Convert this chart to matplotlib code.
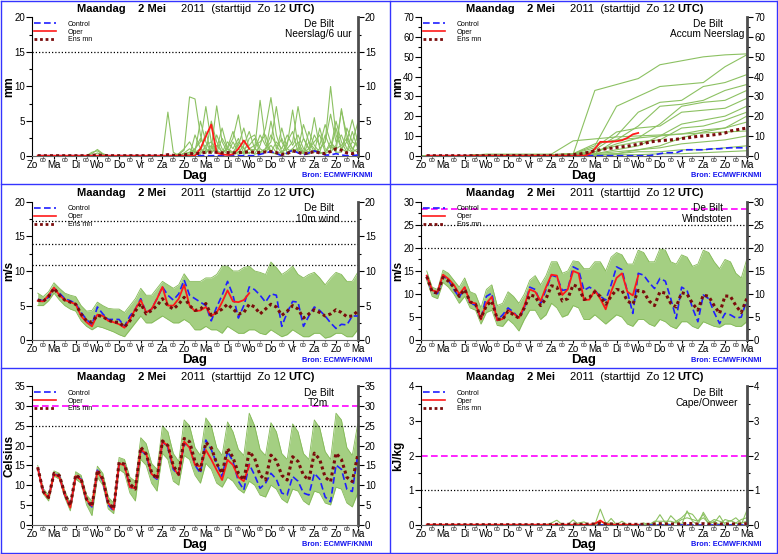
import numpy as np
import matplotlib
matplotlib.use('Agg')
import matplotlib.pyplot as plt
from matplotlib.lines import Line2D
from matplotlib.ticker import FuncFormatter

plt.rcParams['font.family'] = ['Liberation Sans', 'DejaVu Sans']

# ---------------- data ----------------
days = ['Zo', 'Ma', 'Di', 'Wo', 'Do', 'Vr', 'Za', 'Zo', 'Ma', 'Di', 'Wo', 'Do', 'Vr', 'Za', 'Zo', 'Ma']
steps = np.arange(1, 61) * 0.25          # forecast steps (days), 6-hourly
steps_oper = steps[:40]
steps_day = np.arange(16)

# --- Neerslag / 6 uur (mm)
prec_ctrl = [0, 0, 0, 0,  0, 0, 0, 0,  0, 0, 0, 0,  0, 0, 0, 0,  0, 0, 0, 0,
             0, 0, 0, 0,  0, 0, 0, 0,  0, 0, 0, 0,  0, 0, 0, 0,  0, 0, 0, 0,
             0, 0.2, 0.4, 0.6,  0.3, 0, 0.4, 0.8,  0.4, 0.1, 0.4, 0.7,  0.4, 0.1, 0.1, 0.3,  0.1, 0, 0, 0.1]
prec_oper = [0, 0, 0, 0,  0, 0, 0, 0,  0, 0, 0, 0,  0, 0, 0, 0,  0, 0, 0, 0,
             0, 0, 0, 0,  0, 0, 0, 0,  0, 0, 1.0, 2.8,  4.5, 0.4, 0.2, 0.1,  0.2, 1.0, 2.2, 1.0]
prec_mean = [0, 0, 0, 0,  0, 0, 0, 0,  0, 0, 0.05, 0.1,  0.05, 0, 0, 0,  0, 0, 0, 0,
             0, 0, 0, 0.02,  0.15, 0.05, 0.05, 0.1,  0.3, 0.3, 0.35, 0.5,  0.5, 0.5, 0.4, 0.45,
             0.4, 0.45, 0.5, 0.55,  0.5, 0.45, 0.55, 0.6,  0.45, 0.2, 0.3, 0.7,  0.5, 0.3, 0.4, 0.6,
             0.4, 0.3, 0.6, 1.0,  0.8, 0.4, 0.3, 0.5]
prec_m1 = [0, 0, 0, 0,  0, 0, 0, 0,  0, 0, 0.3, 0.9,  0.3, 0, 0, 0,  0, 0, 0, 0,  0, 0, 0, 0,
           6.3, 0.5, 0, 0.4,  1.0, 0.5, 0.2, 1.5,  2.0, 0.8, 0.3, 1.2,  3.5, 1.0, 0.2, 0.5,
           0.3, 1.5, 4.0, 8.4,  3.0, 0.5, 0.2, 1.0,  0.5, 0.3, 2.0, 1.0,  0.3, 0.5, 1.5, 0.5,
           6.8, 2.0, 0.5, 1.0]
prec_m2 = [0, 0, 0, 0,  0, 0, 0, 0,  0, 0, 0.5, 0.7,  0.2, 0, 0, 0,  0, 0, 0, 0,  0, 0, 0, 0,
           0, 0, 0.2, 0.8,  8.5, 8.2, 3.0, 0.5,  1.0, 7.2, 2.0, 0.5,  0.5, 0.2, 0.5, 1.0,
           0.8, 3.0, 1.5, 0.5,  0.2, 0.5, 1.0, 2.0,  7.1, 2.5, 1.0, 0.5,  1.0, 2.0, 10.0, 3.0,
           1.0, 0.5, 2.0, 4.7]
prec_m3 = [0, 0, 0, 0,  0, 0, 0, 0,  0, 0, 0, 0.4,  0, 0, 0, 0,  0, 0, 0, 0,  0, 0, 0, 0,
           0, 0, 0, 0.3,  0.5, 1.0, 2.0, 7.1,  2.0, 0.5, 0.3, 1.0,  2.5, 5.9, 1.0, 0.3,
           1.0, 8.0, 2.0, 0.5,  0.3, 0.5, 1.5, 6.6,  1.5, 0.3, 0.2, 0.8,  0.5, 0.3, 0.8, 4.0,
           1.0, 2.0, 5.2, 2.0]
prec_m4 = [0, 0, 0, 0,  0, 0, 0, 0,  0, 0, 0, 0,  0, 0, 0, 0,  0, 0, 0, 0,  0, 0, 0, 0,
           0, 0, 0, 0,  0, 3.0, 1.0, 0.5,  5.0, 2.0, 0.5, 1.0,  0.5, 1.5, 4.0, 1.0,
           0.2, 0.5, 1.0, 2.0,  7.1, 2.0, 0.5, 1.0,  2.0, 0.5, 1.0, 5.5,  1.0, 2.0, 6.0, 2.0,
           3.0, 1.0, 0.5, 3.0]
prec_m5 = [0, 0, 0, 0,  0, 0, 0, 0,  0, 0, 0, 0,  0, 0, 0, 0,  0, 0, 0, 0,  0, 0, 0, 0,
           0, 0, 0, 0,  0, 0.5, 5.0, 2.0,  0.5, 1.0, 4.0, 1.0,  0.3, 0.5, 1.5, 3.5,
           1.0, 0.5, 0.5, 5.0,  1.0, 2.5, 0.5, 0.8,  1.0, 4.5, 2.0, 0.5,  4.0, 1.0, 0.5, 1.5,
           6.5, 3.0, 1.0, 0.5]
prec_m6 = [0, 0, 0, 0,  0, 0, 0, 0,  0, 0, 0, 0,  0, 0, 0, 0,  0, 0, 0, 0,  0, 0, 0, 0,
           0, 0, 0, 0,  0.2, 1.0, 2.5, 1.0,  0.5, 3.0, 1.0, 0.2,  2.0, 0.5, 0.5, 2.5,
           3.0, 1.0, 0.5, 1.5,  0.5, 4.0, 1.0, 0.5,  1.0, 0.5, 3.5, 1.5,  0.5, 3.0, 1.0, 5.0,
           2.0, 0.5, 3.5, 1.0]
prec_m7 = [0, 0, 0, 0,  0, 0, 0, 0,  0, 0, 0, 0,  0, 0, 0, 0,  0, 0, 0, 0,  0, 0, 0, 0,
           0, 0, 0.3, 1.0,  2.0, 0.5, 1.0, 0.3,  1.5, 0.5, 2.5, 1.0,  0.3, 2.0, 1.0, 1.5,
           2.5, 0.5, 1.0, 3.0,  1.5, 0.3, 2.0, 3.5,  0.5, 2.5, 1.0, 2.0,  3.0, 0.5, 2.0, 1.0,
           1.5, 2.5, 1.0, 2.0]
prec_m8 = [0, 0, 0, 0,  0, 0, 0, 0,  0, 0, 0, 0,  0, 0, 0, 0,  0, 0, 0, 0,  0, 0, 0, 0,
           0, 0, 0, 0,  0.5, 0.2, 0.5, 3.5,  0.3, 1.5, 0.5, 2.0,  1.0, 2.5, 0.3, 1.0,
           1.5, 2.0, 3.0, 0.5,  2.0, 1.0, 3.0, 1.5,  3.0, 1.0, 0.5, 3.0,  1.5, 4.5, 2.0, 0.5,
           0.5, 4.0, 2.0, 1.5]
prec_members = [prec_m1, prec_m2, prec_m3, prec_m4, prec_m5, prec_m6, prec_m7, prec_m8]

# --- Accum Neerslag (mm)
acc_ctrl = [0, 0, 0, 0,  0, 0, 0, 0,  0, 0, 0, 0,  0, 0, 0, 0,  0, 0, 0, 0,
            0, 0, 0, 0,  0, 0, 0, 0,  0, 0, 0, 0,  0, 0, 0, 0,  0, 0, 0, 0,
            0, 0, 0.5, 1.0,  1.5, 1.5, 1.5, 2.5,  3.0, 3.0, 3.0, 3.0,  3.3, 3.5, 3.5, 3.8,  4.0, 4.0, 4.0, 4.0]
acc_oper = [0, 0, 0, 0,  0, 0, 0, 0,  0, 0, 0, 0,  0, 0, 0, 0,  0, 0, 0, 0,
            0, 0, 0, 0,  0, 0, 0, 0,  0, 0, 0.8, 3.5,  7.0, 7.0, 7.1, 7.3,  7.8, 9.0, 10.8, 11.5]
acc_mean = [0, 0, 0, 0,  0, 0, 0, 0,  0, 0, 0, 0.1,  0.1, 0.1, 0.1, 0.1,  0.1, 0.1, 0.1, 0.1,
            0.1, 0.1, 0.1, 0.15,  0.2, 0.3, 0.3, 0.5,  0.8, 1.2, 1.8, 2.5,  3.0, 3.5, 3.8, 4.2,
            4.5, 4.8, 5.3, 5.8,  6.2, 6.8, 7.3, 7.6,  7.8, 8.0, 8.3, 8.7,  9.0, 9.4, 9.8, 10.0,
            10.3, 10.6, 11.0, 11.5,  12.5, 13.0, 13.5, 14.0]
acc_m1 = [0, 0, 0, 0.5, 0.5, 0.5, 0.5, 0.8, 33, 36, 39, 46, 48, 50, 51, 51.5]
acc_m2 = [0, 0, 0, 0.5, 0.5, 0.5, 0.5, 1, 5, 25, 30, 35, 36, 37, 45, 51]
acc_m3 = [0, 0, 0, 0.3, 0.3, 0.3, 0.3, 0.5, 3, 10, 22, 27, 28, 35, 37, 41]
acc_m4 = [0, 0, 0, 0.3, 0.3, 0.3, 0.3, 0.5, 1, 8, 15, 25, 26, 28, 33, 36]
acc_m5 = [0, 0, 0, 0, 0, 0, 0.2, 0.5, 2, 6, 9, 16, 25, 27, 28, 33]
acc_m6 = [0, 0, 0, 0.5, 0.5, 0.5, 0.5, 1, 4, 12, 14, 15, 22, 23, 24, 29]
acc_m7 = [0, 0, 0, 0, 0, 0, 0, 0.5, 1, 3, 5, 10, 16, 18, 20, 25]
acc_m8 = [0, 0, 0, 0.3, 0.3, 0.3, 0.3, 0.5, 2, 5, 7, 8, 14, 15, 18, 22]
acc_m9 = [0, 0, 0, 0, 0, 0, 0, 0.3, 0.5, 1, 3, 5, 9, 12, 14, 20]
acc_m10 = [0, 0, 0, 0.5, 0.5, 0.5, 0.5, 1, 6, 8, 9, 10, 11, 13, 14, 17]
acc_m11 = [0, 0, 0, 0.8, 0.8, 0.8, 0.8, 7.5, 8.5, 9.5, 10, 10.5, 11, 11.5, 12, 12.5]
acc_m12 = [0, 0, 0, 0, 0, 0, 0, 0.5, 1, 2, 3, 4, 6, 7, 8, 10]
acc_m13 = [0, 0, 0, 0, 0, 0, 0, 0.3, 0.5, 1, 2, 2, 3, 3, 4, 5]
acc_m14 = [0, 0, 0, 0, 0, 0, 0, 0, 0.2, 0.5, 0.5, 1, 1, 1.5, 2, 2.5]
acc_members = [acc_m1, acc_m2, acc_m3, acc_m4, acc_m5, acc_m6, acc_m7,
               acc_m8, acc_m9, acc_m10, acc_m11, acc_m12, acc_m13, acc_m14]

# --- 10m wind (m/s)
wind_ctrl = [5.9, 5.7, 6.2, 7.5,  6.8, 6.0, 5.7, 5.3,  4.0, 3.0, 2.2, 4.8,  3.8, 3.0, 3.0, 3.0,
             2.0, 3.5, 4.5, 6.0,  4.0, 4.5, 6.0, 7.7,  6.5, 5.8, 6.7, 8.7,  6.5, 6.0, 5.5, 5.0,
             2.8, 4.8, 6.5, 8.5,  6.5, 3.2, 5.0, 7.7,  7.3, 6.5, 5.5, 6.7,  6.5, 2.0, 4.0, 5.6,
             5.5, 2.0, 3.5, 4.8,  4.3, 3.5, 2.5, 1.7,  2.3, 2.2, 3.5, 3.5]
wind_oper = [5.7, 5.6, 6.5, 7.6,  6.5, 5.8, 5.5, 5.2,  3.5, 2.6, 2.0, 3.7,  3.5, 2.8, 2.6, 2.3,
             1.8, 3.0, 4.5, 5.8,  4.0, 4.5, 6.0, 7.7,  5.0, 5.0, 6.0, 8.0,  5.0, 4.2, 4.3, 4.8,
             3.5, 4.0, 5.5, 7.2,  5.6, 5.5, 5.8, 6.8]
wind_mean = [5.8, 5.6, 6.3, 7.5,  6.5, 5.8, 5.5, 5.2,  3.8, 2.8, 2.6, 3.6,  3.4, 2.9, 2.6, 2.6,
             1.9, 2.8, 4.2, 5.3,  3.8, 4.3, 5.0, 6.0,  5.0, 4.5, 5.2, 6.2,  5.0, 4.3, 4.5, 5.3,
             3.6, 4.0, 4.5, 5.2,  4.5, 3.8, 4.0, 5.2,  4.8, 3.8, 4.5, 5.2,  4.8, 3.6, 4.2, 5.0,
             4.5, 3.2, 3.8, 4.4,  4.0, 3.5, 3.8, 4.4,  4.0, 3.4, 3.5, 4.2]
wind_hi = [6.8, 6.3, 7.0, 8.3,  7.5, 6.8, 6.5, 6.3,  5.0, 4.2, 4.3, 5.5,  5.0, 4.6, 4.5, 4.5,
           4.0, 5.0, 6.0, 7.5,  6.5, 6.5, 7.5, 8.5,  8.0, 7.5, 8.0, 9.6,  8.5, 8.5, 8.5, 9.0,
           9.0, 9.5, 10.7, 10.7,  10.0, 10.0, 10.5, 10.7,  10.0, 9.8, 9.5, 11.3,  10.5, 9.5, 10.0, 10.7,
           9.5, 9.0, 9.5, 9.8,  9.0, 8.0, 9.0, 9.8,  9.5, 8.5, 8.5, 9.8]
wind_lo = [5.0, 5.0, 5.7, 6.8,  5.8, 5.0, 4.5, 4.2,  2.8, 2.0, 1.5, 2.0,  1.8, 1.5, 1.2, 0.8,
           0.5, 1.5, 2.5, 3.5,  2.5, 2.5, 3.0, 3.5,  3.0, 2.5, 2.5, 3.0,  2.5, 1.5, 1.5, 2.0,
           1.5, 1.5, 1.0, 2.0,  1.5, 1.0, 1.0, 1.5,  1.5, 1.0, 0.8, 1.5,  1.0, 0.5, 0.8, 1.5,
           1.0, 0.5, 0.5, 1.0,  1.0, 0.3, 0.5, 1.0,  1.0, 0.5, 0.5, 1.5]

# --- Windstoten (m/s)
gust_ctrl = [14.1, 10.3, 10.1, 14.0,  13.0, 11.0, 9.3, 11.4,  8.0, 7.6, 4.6, 9.5,  10.2, 4.3, 5.5, 7.0,
             6.1, 4.7, 7.0, 11.5,  11.0, 8.0, 11.0, 14.1,  13.7, 10.8, 11.0, 15.9,  15.3, 10.8, 11.5, 10.8,
             9.5, 8.7, 12.0, 15.9,  15.3, 10.5, 5.8, 14.5,  14.1, 12.5, 11.2, 13.4,  12.8, 9.0, 4.7, 11.5,
             10.8, 7.0, 4.0, 9.8,  9.0, 6.0, 3.6, 5.8,  5.5, 4.8, 5.0, 8.7]
gust_oper = [14.0, 10.8, 10.5, 14.2,  13.3, 12.0, 10.0, 11.5,  8.2, 8.0, 4.5, 8.0,  9.4, 4.3, 4.6, 6.5,
             5.8, 4.8, 7.5, 11.0,  10.5, 8.5, 11.5, 14.2,  14.0, 9.8, 11.0, 15.0,  14.5, 8.7, 8.8, 10.8,
             9.0, 6.7, 10.5, 13.5,  14.5, 10.5, 9.7, 14.0]
gust_mean = [13.8, 10.5, 10.2, 13.6,  12.8, 11.5, 9.5, 11.0,  8.3, 7.8, 4.8, 7.5,  8.5, 4.6, 4.5, 6.3,
             5.5, 4.8, 7.0, 9.8,  9.5, 7.5, 9.0, 11.8,  11.5, 8.5, 9.0, 12.0,  11.5, 8.8, 9.3, 10.5,
             9.5, 7.8, 9.5, 11.0,  10.8, 8.5, 7.8, 10.8,  10.5, 8.5, 7.5, 10.5,  10.2, 8.0, 7.2, 10.3,
             10.0, 8.0, 6.5, 9.8,  9.5, 7.5, 5.8, 9.6,  9.5, 7.5, 6.0, 9.0]
gust_hi = [15.0, 11.5, 11.0, 15.2,  14.5, 13.0, 11.5, 13.5,  10.5, 10.0, 7.0, 11.0,  12.0, 7.5, 8.0, 10.5,
           9.5, 8.0, 10.0, 13.0,  14.0, 12.0, 14.0, 17.0,  17.0, 14.5, 15.0, 17.2,  17.0, 15.5, 15.5, 17.0,
           17.0, 15.0, 18.0, 19.0,  18.5, 16.5, 16.5, 19.5,  19.0, 17.0, 17.0, 19.8,  19.5, 17.0, 16.5, 18.5,
           18.0, 16.0, 16.5, 19.5,  19.0, 17.0, 15.5, 17.5,  17.0, 14.5, 13.5, 17.5]
gust_lo = [13.0, 9.5, 9.0, 12.5,  11.5, 10.0, 8.0, 9.5,  7.0, 6.5, 3.5, 6.0,  6.5, 3.2, 3.0, 4.5,
           3.5, 2.0, 4.5, 6.5,  6.5, 4.5, 5.5, 8.0,  7.0, 5.0, 5.5, 7.5,  7.0, 4.5, 4.5, 5.5,
           4.5, 3.5, 4.5, 5.5,  5.0, 3.5, 3.0, 4.5,  4.5, 3.5, 3.0, 4.5,  4.0, 3.0, 2.5, 4.0,
           4.0, 3.0, 2.5, 4.0,  3.5, 3.0, 2.8, 3.5,  3.5, 3.0, 3.0, 4.0]

# --- T2m (Celsius)
t2m_ctrl = [14.5, 8.5, 6.8, 13.0,  12.2, 7.5, 4.5, 12.5,  11.5, 6.0, 4.5, 13.8,  11.0, 5.0, 3.5, 15.5,
            15.0, 9.5, 9.0, 19.0,  17.5, 12.5, 11.5, 21.0,  19.5, 14.0, 12.5, 20.6,  19.5, 15.1, 13.0, 21.4,
            19.0, 15.5, 12.2, 18.5,  16.0, 11.0, 8.8, 15.3,  12.5, 9.2, 10.5, 13.0,  11.5, 8.0, 7.5, 12.2,
            11.0, 8.0, 7.5, 13.0,  11.5, 7.0, 5.8, 15.1,  14.0, 9.0, 8.4, 17.6]
t2m_oper = [14.3, 8.3, 6.7, 12.8,  12.0, 7.6, 4.3, 12.3,  11.3, 6.3, 4.8, 13.5,  11.3, 5.5, 3.8, 15.5,
            15.0, 9.5, 9.2, 19.0,  18.0, 12.8, 11.8, 21.0,  20.0, 14.5, 12.5, 21.0,  19.5, 15.1, 14.7, 18.9,
            16.5, 13.8, 11.3, 16.4,  15.1, 12.0, 11.0, 15.1]
t2m_mean = [14.5, 8.4, 6.9, 13.0,  12.4, 7.8, 4.8, 12.6,  11.6, 6.5, 4.6, 13.8,  11.6, 5.6, 4.0, 15.8,
            15.3, 10.3, 9.0, 19.6,  17.9, 13.2, 11.6, 21.2,  20.0, 14.9, 12.8, 21.8,  21.0, 16.0, 13.8, 20.8,
            19.5, 15.5, 13.0, 19.3,  17.0, 13.0, 11.3, 18.5,  16.8, 12.5, 11.3, 17.6,  16.2, 12.5, 11.3, 17.2,
            16.0, 12.5, 11.3, 18.1,  16.5, 12.0, 10.9, 18.1,  16.5, 12.0, 10.9, 17.6]
t2m_hi = [15.0, 9.2, 7.5, 13.6,  13.0, 8.5, 5.5, 13.4,  12.5, 7.5, 6.0, 14.8,  13.0, 7.0, 5.5, 17.0,
          16.5, 12.0, 11.0, 22.0,  20.5, 15.5, 14.0, 25.0,  23.5, 18.0, 16.0, 26.5,  25.0, 19.5, 17.5, 27.0,
          25.0, 19.5, 17.5, 26.0,  23.5, 19.0, 17.5, 28.2,  25.0, 19.0, 17.5, 25.8,  23.5, 18.0, 16.5, 25.5,
          23.5, 18.0, 16.5, 26.5,  24.5, 18.5, 16.5, 28.2,  26.5, 19.5, 17.5, 25.5]
t2m_lo = [14.0, 7.8, 6.0, 12.3,  11.5, 6.8, 3.5, 11.5,  10.5, 5.0, 2.3, 12.0,  10.0, 4.0, 2.8, 14.0,
          13.0, 8.0, 6.0, 16.5,  15.0, 10.5, 8.5, 18.0,  16.5, 11.0, 10.0, 17.5,  16.5, 12.5, 10.5, 15.5,
          14.0, 10.5, 9.5, 12.0,  11.0, 9.0, 8.0, 11.0,  10.0, 7.5, 7.0, 10.0,  9.0, 6.5, 5.5, 9.0,
          8.5, 6.0, 5.0, 8.5,  8.0, 5.5, 5.0, 9.5,  9.0, 5.5, 4.5, 8.0]

# --- Cape / Onweer (kJ/kg)
cape_ctrl = [0, 0, 0, 0,  0, 0, 0, 0,  0, 0, 0, 0,  0, 0, 0, 0,  0, 0, 0, 0,
             0, 0, 0, 0,  0, 0, 0, 0,  0, 0, 0, 0,  0, 0, 0, 0,  0, 0, 0, 0,
             0, 0, 0, 0,  0, 0, 0, 0,  0, 0, 0, 0,  0, 0, 0, 0,  0, 0, 0, 0]
cape_oper = [0, 0, 0, 0,  0, 0, 0, 0,  0, 0, 0, 0,  0, 0, 0, 0,  0, 0, 0, 0,
             0, 0, 0, 0,  0, 0, 0, 0,  0, 0, 0, 0.03,  0.12, 0.02, 0, 0,  0, 0, 0, 0]
cape_mean = [0, 0, 0, 0,  0, 0, 0, 0,  0, 0, 0, 0,  0, 0, 0, 0,  0, 0, 0, 0,
             0, 0, 0, 0,  0.01, 0.01, 0.01, 0.02,  0.01, 0.01, 0.02, 0.02,  0.04, 0.02, 0.02, 0.01,
             0.01, 0.01, 0.01, 0.01,  0.01, 0.01, 0.02, 0.03,  0.02, 0.02, 0.02, 0.02,
             0.04, 0.03, 0.02, 0.03,  0.02, 0.02, 0.02, 0.02,  0.02, 0.02, 0.02, 0.03]
cape_m1 = [0, 0, 0, 0,  0, 0, 0, 0,  0, 0, 0, 0,  0, 0, 0, 0,  0, 0, 0, 0,  0, 0, 0, 0,
           0, 0, 0, 0.14,  0, 0, 0, 0,  0.45, 0.05, 0, 0,  0, 0, 0, 0,  0, 0, 0, 0,
           0, 0.26, 0.1, 0,  0.4, 0.1, 0, 0.36,  0.1, 0.05, 0.26, 0,  0, 0.05, 0, 0.4]
cape_m2 = [0, 0, 0, 0,  0, 0, 0, 0,  0, 0, 0, 0,  0, 0, 0, 0,  0, 0, 0, 0,  0, 0, 0, 0.05,
           0.13, 0, 0, 0,  0, 0, 0, 0,  0, 0, 0.18, 0,  0.1, 0, 0, 0,  0, 0, 0.05, 0.29,
           0.05, 0, 0.1, 0.2,  0.35, 0.3, 0.1, 0.3,  0, 0.1, 0, 0.15,  0.1, 0.2, 0.05, 0.1]
cape_m3 = [0, 0, 0, 0,  0, 0, 0, 0,  0, 0, 0, 0,  0, 0, 0, 0,  0, 0, 0, 0,  0, 0, 0, 0,
           0, 0, 0, 0,  0.05, 0.08, 0, 0,  0.1, 0.03, 0.05, 0,  0, 0, 0, 0,  0.05, 0, 0.1, 0.1,
           0.1, 0.1, 0.05, 0.15,  0.2, 0.15, 0.1, 0.2,  0.05, 0.15, 0.1, 0.05,  0.12, 0.05, 0.15, 0.2]
cape_members = [cape_m1, cape_m2, cape_m3]

# ---------------- figure ----------------
W, H = 778, 554
fig = plt.figure(figsize=(W / 100, H / 100), dpi=100)
fig.patch.set_facecolor('white')

PW, PH = 389.0, 184.5
AX_L, AX_W, AX_T, AX_H = 32.3, 325.4, 17.3, 138.4

C_ENS_FILL = '#a4cf82'
C_ENS_LINE = '#84b957'
C_MEMBER = '#8cc162'
C_CTRL = '#1f1fff'
C_OPER = '#ff1a1a'
C_MEAN = '#7a0c0c'
C_BORDER = '#3434ff'


def fx(px):
    return px / W


def fy(py):
    return 1 - py / H


def make_axes(col, row):
    x0 = AX_L + PW * col
    top = AX_T + PH * row
    return fig.add_axes([fx(x0), fy(top + AX_H), AX_W / W, AX_H / H])


def style_axes(ax, col, row, ymax, ystep, yminor, ylabel, place, var):
    ax.set_xlim(0, 15)
    ax.set_ylim(0, ymax)
    ax.set_yticks(np.arange(0, ymax + 1e-6, ystep))
    ax.set_yticks(np.arange(0, ymax + 1e-6, yminor), minor=True)
    ax.yaxis.set_major_formatter(FuncFormatter(lambda v, p: f'{v:g}'))
    ax.tick_params(axis='y', which='both', left=True, right=True, labelleft=True,
                   labelright=True, direction='out', labelsize=7.0, width=0.8, pad=1.3,
                   colors='black')
    ax.tick_params(axis='y', which='major', length=4)
    ax.tick_params(axis='y', which='minor', length=2)
    ax.set_xticks(range(16))
    ax.set_xticklabels(days)
    ax.set_xticks(np.arange(0.5, 15, 1.0), minor=True)
    ax.set_xticklabels(['00'] * 15, minor=True)
    ax.tick_params(axis='x', which='major', length=2.2, labelsize=7, pad=0.8, width=0.8)
    ax.tick_params(axis='x', which='minor', length=1.5, labelsize=4.3, pad=0.2,
                   width=0.8, color='#888888')
    ax.spines['top'].set_visible(False)
    ax.spines['right'].set_linewidth(2.0)
    ax.spines['right'].set_color('#4d4d4d')
    ax.spines['left'].set_linewidth(0.8)
    ax.spines['bottom'].set_linewidth(0.8)
    ax.spines['bottom'].set_color('#666666')

    ox, oy = PW * col, PH * row
    # title
    fig.text(fx(ox + 77), fy(oy + 8.5), 'Maandag    2 Mei', fontsize=8, fontweight='bold',
             ha='left', va='center')
    fig.text(fx(ox + 181), fy(oy + 8.5), '2011  (starttijd  Zo 12', fontsize=8,
             ha='left', va='center')
    fig.text(fx(ox + 288), fy(oy + 8.5), 'UTC)', fontsize=8, fontweight='bold',
             ha='left', va='center')
    # y label
    fig.text(fx(ox + 9.5), fy(oy + AX_T + AX_H / 2), ylabel, fontsize=8.5, fontweight='bold',
             rotation=90, ha='center', va='center')
    # x label and source
    fig.text(fx(ox + 195), fy(oy + 176), 'Dag', fontsize=9.5, fontweight='bold',
             ha='center', va='center')
    fig.text(fx(ox + 372), fy(oy + 175.5), 'Bron: ECMWF/KNMI', fontsize=5.3, fontweight='bold',
             color='#1010ee', ha='right', va='center')
    # place and variable
    ax.text(0.881, 0.952, place, transform=ax.transAxes, fontsize=7.3, ha='center', va='center')
    ax.text(0.878, 0.877, var, transform=ax.transAxes, fontsize=7.3, ha='center', va='center')
    # legend
    handles = [Line2D([], [], color=C_CTRL, lw=1.2, ls=(0, (4, 2))),
               Line2D([], [], color=C_OPER, lw=1.2),
               Line2D([], [], color=C_MEAN, lw=2.0, ls=(0, (1, 1)))]
    ax.legend(handles, ['Control', 'Oper', 'Ens mn'], loc='upper left',
              bbox_to_anchor=(0.0, 0.985), fontsize=5.0, frameon=False,
              handlelength=3.2, handletextpad=1.7, labelspacing=0.12,
              borderpad=0.2, borderaxespad=0.0)


def hline(ax, y, kind):
    if kind == 'dot':
        ax.axhline(y, color='black', lw=0.9, ls=(0, (1, 1.6)), zorder=2)
    else:
        ax.axhline(y, color='#ff00ff', lw=1.2, ls=(0, (4, 2)), zorder=2)


def draw_band(ax, lo, hi):
    ax.fill_between(steps, lo, hi, color=C_ENS_FILL, lw=0, zorder=1)
    ax.plot(steps, lo, color=C_ENS_LINE, lw=0.6, zorder=1)
    ax.plot(steps, hi, color=C_ENS_LINE, lw=0.6, zorder=1)


def draw_main(ax, ctrl, oper, mean):
    ax.plot(steps, ctrl, color=C_CTRL, lw=1.2, ls=(0, (4, 2)), zorder=4)
    ax.plot(steps_oper, oper, color=C_OPER, lw=1.3, zorder=5)
    ax.plot(steps, mean, color=C_MEAN, lw=2.2, ls=(0, (1, 1)), zorder=6)


# Panel 1: Neerslag/6 uur
ax = make_axes(0, 0)
for m in prec_members:
    ax.plot(steps, m, color=C_MEMBER, lw=0.8, zorder=1)
hline(ax, 15, 'dot')
draw_main(ax, prec_ctrl, prec_oper, prec_mean)
style_axes(ax, 0, 0, 20, 5, 2.5, 'mm', 'De Bilt', 'Neerslag/6 uur')

# Panel 2: Accum Neerslag
ax = make_axes(1, 0)
for m in acc_members:
    ax.plot(steps_day, m, color=C_MEMBER, lw=0.8, zorder=1)
draw_main(ax, acc_ctrl, acc_oper, acc_mean)
style_axes(ax, 1, 0, 70, 10, 5, 'mm', 'De Bilt', 'Accum Neerslag')

# Panel 3: 10m wind
ax = make_axes(0, 1)
draw_band(ax, wind_lo, wind_hi)
for y in (10.8, 13.9, 17.2):
    hline(ax, y, 'dot')
draw_main(ax, wind_ctrl, wind_oper, wind_mean)
style_axes(ax, 0, 1, 20, 5, 2.5, 'm/s', 'De Bilt', '10m wind')

# Panel 4: Windstoten
ax = make_axes(1, 1)
draw_band(ax, gust_lo, gust_hi)
for y in (20, 25):
    hline(ax, y, 'dot')
hline(ax, 28.5, 'dash')
draw_main(ax, gust_ctrl, gust_oper, gust_mean)
style_axes(ax, 1, 1, 30, 5, 2.5, 'm/s', 'De Bilt', 'Windstoten')

# Panel 5: T2m
ax = make_axes(0, 2)
draw_band(ax, t2m_lo, t2m_hi)
hline(ax, 25, 'dot')
hline(ax, 30, 'dash')
draw_main(ax, t2m_ctrl, t2m_oper, t2m_mean)
style_axes(ax, 0, 2, 35, 5, 2.5, 'Celsius', 'De Bilt', 'T2m')

# Panel 6: Cape/Onweer
ax = make_axes(1, 2)
for m in cape_members:
    ax.plot(steps, m, color=C_MEMBER, lw=0.8, zorder=1)
hline(ax, 1, 'dot')
hline(ax, 2, 'dash')
draw_main(ax, cape_ctrl, cape_oper, cape_mean)
style_axes(ax, 1, 2, 4, 1, 0.5, 'kJ/kg', 'De Bilt', 'Cape/Onweer')

# blue panel borders
bw = 1.0
for x in (1.0, 389.5, 777.0):
    fig.add_artist(Line2D([fx(x), fx(x)], [fy(0.5), fy(553.5)], color=C_BORDER, lw=bw))
for y in (0.8, 183.8, 368.3, 553.2):
    fig.add_artist(Line2D([fx(0.5), fx(777.5)], [fy(y), fy(y)], color=C_BORDER, lw=bw))

fig.savefig('out.png', dpi=100)
